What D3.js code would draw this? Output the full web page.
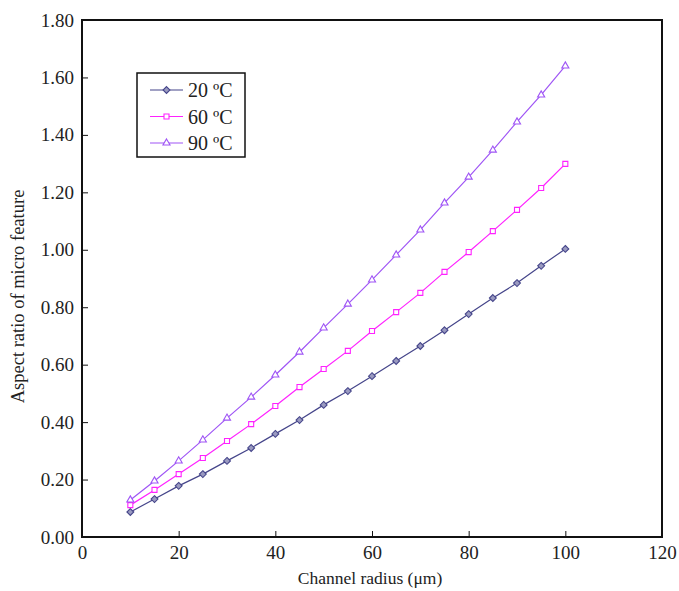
<!DOCTYPE html>
<html>
<head>
<meta charset="utf-8">
<script src="https://cdn.jsdelivr.net/npm/d3@7"></script>
<style>
  body { margin: 0; background: #fff; }
  text { font-family: "Liberation Serif", "DejaVu Serif", serif; fill: #222; }
</style>
</head>
<body>
<svg width="679" height="591"></svg>
<script>
const radius = [10, 15, 20, 25, 30, 35, 40, 45, 50, 55, 60, 65, 70, 75, 80, 85, 90, 95, 100];
const t20 = [0.087, 0.132, 0.178, 0.219, 0.265, 0.31, 0.359, 0.407, 0.46, 0.508, 0.56, 0.613, 0.665, 0.72, 0.776, 0.832, 0.884, 0.944, 1.003];
const t60 = [0.111, 0.164, 0.219, 0.275, 0.334, 0.393, 0.456, 0.522, 0.585, 0.648, 0.717, 0.783, 0.85, 0.923, 0.992, 1.065, 1.139, 1.215, 1.299];
const t90 = [0.129, 0.195, 0.265, 0.338, 0.414, 0.487, 0.564, 0.644, 0.728, 0.811, 0.895, 0.982, 1.069, 1.163, 1.253, 1.347, 1.445, 1.539, 1.64];
const seriesNames = ['20 \u00BAC', '60 \u00BAC', '90 \u00BAC'];
const xTicks = [0, 20, 40, 60, 80, 100, 120];
const yTicks = [0, 0.2, 0.4, 0.6, 0.8, 1.0, 1.2, 1.4, 1.6, 1.8];

const margin = {left: 82, right: 17, top: 20, bottom: 54};
const width = 679 - margin.left - margin.right;
const height = 591 - margin.top - margin.bottom;

const svg = d3.select('svg')
  .append('g')
    .attr('transform', `translate(${margin.left},${margin.top})`);

const x = d3.scaleLinear().domain([0, 120]).range([0, width]);
const y = d3.scaleLinear().domain([0, 1.8]).range([height, 0]);

const series = [
  {name: seriesNames[0], values: t20, color: '#45458a', marker: 'diamond'},
  {name: seriesNames[1], values: t60, color: '#ff22ff', marker: 'square'},
  {name: seriesNames[2], values: t90, color: '#9f55f5', marker: 'triangle'}
];

const symbolFor = (m) => {
  switch (m) {
    case 'diamond': return d3.symbol().type(d3.symbolDiamond2).size(30)();
    case 'square': return d3.symbol().type(d3.symbolSquare2).size(32)();
    case 'triangle': return d3.symbol().type(d3.symbolTriangle2).size(36)();
  }
};

// frame
svg.append('rect')
  .attr('x', 0).attr('y', 0)
  .attr('width', width).attr('height', height)
  .attr('fill', 'none')
  .attr('stroke', '#111')
  .attr('stroke-width', 2);

// axes, ticks pointing inward
const xAxis = svg.append('g')
  .attr('transform', `translate(0,${height})`)
  .call(d3.axisBottom(x).tickValues(xTicks).tickSizeInner(-6).tickSizeOuter(0).tickPadding(9).tickFormat(d3.format('d')));
xAxis.select('.domain').remove();
xAxis.selectAll('line').attr('stroke', '#111');
xAxis.selectAll('text').style('font-size', '19px').attr('fill', '#222');

const yAxis = svg.append('g')
  .call(d3.axisLeft(y).tickValues(yTicks).tickSizeInner(-6).tickSizeOuter(0).tickPadding(8).tickFormat(d3.format('.2f')));
yAxis.select('.domain').remove();
yAxis.selectAll('line').attr('stroke', '#111');
yAxis.selectAll('text').style('font-size', '19px').attr('fill', '#222');

// axis titles
svg.append('text')
  .attr('x', x(60) - 2)
  .attr('y', height + 47)
  .attr('text-anchor', 'middle')
  .style('font-size', '17.5px')
  .text('Channel radius (\u03BCm)');

svg.append('text')
  .attr('transform', `translate(${-58},${height / 2 + 18}) rotate(-90)`)
  .attr('text-anchor', 'middle')
  .style('font-size', '18.5px')
  .text('Aspect ratio of micro feature');

// lines and markers
const line = d3.line()
  .x((d, i) => x(radius[i]))
  .y(d => y(d));

series.forEach(s => {
  svg.append('path')
    .datum(s.values)
    .attr('d', line)
    .attr('fill', 'none')
    .attr('stroke', s.color)
    .attr('stroke-width', 1.2);

  svg.append('g')
    .selectAll('path')
    .data(s.values)
    .enter()
    .append('path')
      .attr('transform', (d, i) => `translate(${x(radius[i])},${y(d)})`)
      .attr('d', symbolFor(s.marker))
      .attr('fill', s.marker === 'diamond' ? '#9a9ac0' : '#fff')
      .attr('stroke', s.color)
      .attr('stroke-width', 1.1);
});

// legend
const legend = svg.append('g')
  .attr('transform', `translate(${137 - margin.left},${73 - margin.top})`);

legend.append('rect')
  .attr('width', 108)
  .attr('height', 84)
  .attr('fill', '#fff')
  .attr('stroke', '#111')
  .attr('stroke-width', 1.5);

series.forEach((s, i) => {
  const ly = 17 + i * 26.5;
  legend.append('line')
    .attr('x1', 13).attr('x2', 46)
    .attr('y1', ly).attr('y2', ly)
    .attr('stroke', s.color)
    .attr('stroke-width', 1.2);
  legend.append('path')
    .attr('transform', `translate(29.5,${ly})`)
    .attr('d', symbolFor(s.marker))
    .attr('fill', s.marker === 'diamond' ? '#9a9ac0' : '#fff')
    .attr('stroke', s.color)
    .attr('stroke-width', 1.1);
  legend.append('text')
    .attr('x', 51)
    .attr('y', ly + 7)
    .style('font-size', '20px')
    .text(s.name);
});
</script>
</body>
</html>
